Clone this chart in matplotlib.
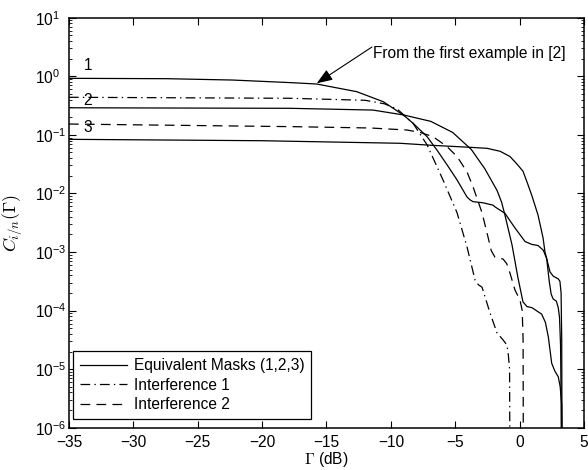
import matplotlib
matplotlib.use('Agg')
import matplotlib.pyplot as plt
from matplotlib.ticker import LogLocator, NullFormatter, FixedLocator

plt.rcParams['font.family'] = ['Liberation Sans', 'DejaVu Sans']
plt.rcParams['mathtext.fontset'] = 'cm'
plt.rcParams['lines.scale_dashes'] = False

# ---- data ----
mask1_db = [-35, -27.4, -22.3, -17.6, -15.76, -12.65, -10.59, -9.03, -8.28, -7.19, -6.42, -5.64,
            -4.86, -4.09, -3.85, -3.62, -2.84, -2.07, -1.91, -1.14, -0.36, 0.42, 0.94, 1.43, 1.84,
            2.10, 2.30, 2.45, 2.60, 2.85, 3.00, 3.10, 3.18, 3.22, 3.25]
mask1_c = [0.923, 0.910, 0.863, 0.776, 0.738, 0.546, 0.368, 0.218, 0.158, 0.0933, 0.0550, 0.0309,
           0.0170, 8.71e-3, 7.76e-3, 7.24e-3, 6.92e-3, 6.31e-3, 5.89e-3, 4.57e-3, 2.57e-3, 1.51e-3,
           1.35e-3, 1.29e-3, 1.07e-3, 7.76e-4, 3.16e-4, 1.91e-4, 1.58e-4, 1.45e-4, 1.12e-4, 7.59e-5,
           2.51e-5, 3.16e-6, 1e-7]

mask2_db = [-35, -17.83, -11.39, -9.03, -6.9, -5.2, -3.75, -2.7, -1.75, -1.4, -1.14, -0.59, -0.13,
            0.26, 0.57, 0.96, 1.43, 1.71, 2.0, 2.23, 2.49, 2.75, 3.0, 3.15, 3.27, 3.33]
mask2_c = [0.290, 0.284, 0.265, 0.219, 0.170, 0.110, 0.0562, 0.0263, 0.0112, 7.08e-3, 4.27e-3,
           1.32e-3, 3.63e-4, 1.41e-4, 1.17e-4, 1.12e-4, 9.55e-5, 8.71e-5, 6.31e-5, 3.55e-5, 1.26e-5,
           9.12e-6, 7.41e-6, 5.01e-6, 2.51e-6, 1e-7]

mask3_db = [-35, -20, -9.29, -6.73, -4.09, -2.53, -1.52, -0.75, -0.2, 0.26, 0.6, 0.94, 1.43, 1.82,
            1.97, 2.36, 2.6, 2.75, 3.0, 3.13, 3.22, 3.27, 3.3]
mask3_c = [0.0839, 0.0794, 0.0718, 0.0661, 0.0617, 0.0589, 0.0525, 0.0427, 0.0316, 0.0240, 0.0151,
           9.33e-3, 4.27e-3, 1.74e-3, 1.0e-3, 4.57e-4, 3.89e-4, 3.72e-4, 3.47e-4, 3.16e-4, 2.0e-4,
           3.16e-5, 1e-7]

int1_db = [-35, -17.8, -12.0, -10.5, -9.5, -8.28, -7.19, -5.95, -4.86, -4.09, -3.46, -3.2, -2.92,
           -2.30, -1.76, -1.29, -0.98, -0.88, -0.78, -0.75]
int1_c = [0.438, 0.421, 0.389, 0.339, 0.275, 0.158, 0.0676, 0.0170, 4.68e-3, 1.23e-3, 3.31e-4,
          2.75e-4, 2.51e-4, 9.12e-5, 4.17e-5, 3.16e-5, 2.57e-5, 1.78e-5, 1e-5, 1e-7]

int2_db = [-35, -17.6, -11.6, -8.75, -7.74, -6.73, -5.64, -4.86, -4.09, -3.62, -2.92, -2.46, -2.2,
           -1.91, -1.29, -1.0, -0.75, -0.36, 0.03, 0.2, 0.27, 0.29]
int2_c = [0.153, 0.138, 0.131, 0.121, 0.110, 0.0933, 0.0631, 0.0427, 0.0234, 0.0130, 4.68e-3,
          1.82e-3, 1.05e-3, 8.13e-4, 7.59e-4, 6.31e-4, 4.37e-4, 2.24e-4, 1.51e-4, 1e-4, 3.16e-5, 1e-7]

x_ticks = [-35, -30, -25, -20, -15, -10, -5, 0, 5]
y_ticks = [1e-6, 1e-5, 1e-4, 1e-3, 1e-2, 1e-1, 1e0, 1e1]
legend_labels = ['Equivalent Masks (1,2,3)', 'Interference 1', 'Interference 2']
curve_labels = ['1', '2', '3']
annot_text = 'From the first example in [2]'

# ---- figure ----
FS = 11.2
fig = plt.figure(figsize=(5.88, 4.70), dpi=100)
ax = fig.add_axes([0.1173, 0.09, 0.8759, 0.8723])
ax.set_yscale('log')

lw = 0.9
l1, = ax.plot(mask1_db, mask1_c, color='k', lw=lw, ls='-')
ax.plot(mask2_db, mask2_c, color='k', lw=lw, ls='-')
ax.plot(mask3_db, mask3_c, color='k', lw=lw, ls='-')
l2, = ax.plot(int1_db, int1_c, color='k', lw=lw, dashes=(7, 3, 1, 3))
l3, = ax.plot(int2_db, int2_c, color='k', lw=lw, dashes=(7, 4.5))

ax.set_xlim(-35, 5)
ax.set_ylim(1e-6, 10)
ax.xaxis.set_major_locator(FixedLocator(x_ticks))
ax.set_yticks(y_ticks)
ax.yaxis.set_minor_locator(LogLocator(base=10, subs=range(2, 10), numticks=20))
ax.yaxis.set_minor_formatter(NullFormatter())

ax.tick_params(which='both', direction='in', top=True, right=True, labelsize=FS)
ax.tick_params(which='major', length=5, width=0.8)
ax.tick_params(which='minor', length=2.5, width=0.6)
ax.tick_params(axis='y', which='major', pad=24.5)
ax.tick_params(axis='x', which='major', pad=5.5)
for lab in ax.get_yticklabels():
    lab.set_horizontalalignment('left')
for s in ax.spines.values():
    s.set_linewidth(1.1)

ax.set_xlabel(r'$\Gamma$ (dB)', fontsize=FS, labelpad=0)
ax.set_ylabel(r'$C_{i/n}(\Gamma)$', fontsize=13)
ax.yaxis.set_label_coords(-0.088, 0.5)

# curve number labels
ax.text(-33.52, 1.55, curve_labels[0], fontsize=FS, ha='center', va='center')
ax.text(-33.52, 0.39, curve_labels[1], fontsize=FS, ha='center', va='center')
ax.text(-33.52, 0.131, curve_labels[2], fontsize=FS, ha='center', va='center')

# annotation with arrow
ax.text(-11.39, 2.49, annot_text, fontsize=FS, ha='left', va='center')
ax.annotate('', xy=(-15.76, 0.758), xytext=(-11.47, 3.16),
            arrowprops=dict(arrowstyle='-|>,head_length=0.8,head_width=0.3', color='k',
                            lw=0.8, shrinkA=0, shrinkB=0, mutation_scale=12))

leg = ax.legend([l1, l2, l3], legend_labels, loc='lower left',
                bbox_to_anchor=(0.0078, 0.0205), borderaxespad=0, fontsize=FS,
                fancybox=False, framealpha=1, edgecolor='k', handlelength=3.0,
                handletextpad=0.45, labelspacing=0.3, borderpad=0.45)
leg.get_frame().set_linewidth(0.9)

fig.savefig('out.png', dpi=100)
